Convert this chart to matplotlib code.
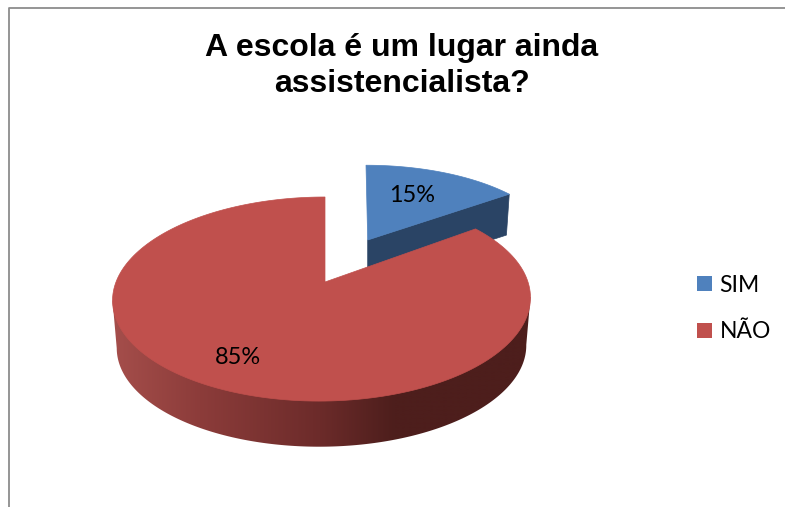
import numpy as np
import matplotlib
matplotlib.use("Agg")
from matplotlib import pyplot as plt
from matplotlib.patches import Patch

# chart data
categories = ["SIM", "NÃO"]
values = [15, 85]
value_labels = ["15%", "85%"]
title = "A escola é um lugar ainda\nassistencialista?"

BLUE = "#4F81BD"
BLUE_WALL = "#2A4465"
RED = "#C0504D"


def project(angle, geo, drop=0.0, scale=1.0):
    # angle in degrees, clockwise from 12 o'clock; simple perspective of the pie plane
    a = np.radians(angle)
    px = np.sin(a)
    py = np.cos(a)
    w = 1 + geo["k"] * py
    x = geo["cx"] + geo["shift"] + scale * (geo["rx"] * px / w + geo["lean"] * py)
    y = geo["cy"] + drop - scale * geo["ry"] * py / w
    return x, y


def slice_outline(start, end, geo):
    t = np.linspace(start, end, 200)
    x, y = project(t, geo)
    return np.column_stack([np.r_[geo["cx"], x], np.r_[geo["cy"], y]])


fig = plt.figure(figsize=(7.85, 5.07), dpi=100)
ax = fig.add_axes([0, 0, 1, 1])
ax.axis("off")

# chart frame, runs off the right and bottom of the picture
ax.plot([8.5, 8.5, 785], [507, 8, 8], color="#8C8C8C", lw=1.3, solid_capstyle="butt")

sweep = 360 * values[0] / sum(values)

# blue slice, pulled out from the pie
blue_geo = dict(cx=367.7, cy=240, rx=187.6, ry=83, k=0.11, lean=-1.7, shift=0)
blue_drop = 40
bx, by = project(sweep, blue_geo)
bx2, by2 = project(sweep, blue_geo, drop=blue_drop, scale=0.98)
ax.fill([blue_geo["cx"], bx, bx2, blue_geo["cx"]],
        [blue_geo["cy"], by, by2, blue_geo["cy"] + blue_drop],
        color=BLUE_WALL, lw=0.5, zorder=2)
ax.add_patch(plt.Polygon(slice_outline(0, sweep, blue_geo), closed=True,
                         facecolor=BLUE, edgecolor=BLUE, lw=0.5, zorder=3))

# red slice: side wall as a horizontal gradient clipped to the rim, then the top face
red_geo = dict(cx=325, cy=282, rx=206, ry=99.2, k=0.167, lean=3, shift=-3)
red_drop = 48
angles = np.linspace(sweep, 360, 400)
xt, yt = project(angles, red_geo)
xb, yb = project(angles, red_geo, drop=red_drop, scale=0.98)
i_right, i_left = xt.argmax(), xt.argmin()
# top face covers the inner side of this outline, only the lower rim shows
wall_x = np.r_[xt[i_right], xb[i_right:i_left + 1], xt[i_left]]
wall_y = np.r_[yt[i_right], yb[i_right:i_left + 1], yt[i_left]]
wall = plt.Polygon(np.column_stack([wall_x, wall_y]), closed=True,
                   transform=ax.transData, facecolor="none", edgecolor="none")
ax.add_patch(wall)
gx = np.arange(100, 541)
stops = [113, 200, 320, 395, 531]
grad = np.column_stack([np.interp(gx, stops, [165, 140, 108, 77, 77]),
                        np.interp(gx, stops, [78, 60, 43, 30, 30]),
                        np.interp(gx, stops, [75, 58, 42, 28, 28])]) / 255
im = ax.imshow(grad[np.newaxis, :, :], extent=(100, 540, 460, 190), aspect="auto",
               interpolation="bilinear", zorder=4)
im.set_clip_path(wall)
ax.add_patch(plt.Polygon(slice_outline(sweep, 360, red_geo), closed=True,
                         facecolor=RED, edgecolor=RED, lw=0.5, zorder=5))
ax.set_xlim(0, 785)
ax.set_ylim(507, 0)

ax.text(402, 66, title, ha="center", va="center", fontsize=23, fontweight="bold",
        family="Liberation Sans", linespacing=1.3, color="black")

ax.text(412, 195, value_labels[0], ha="center", va="center", fontsize=16.9, family="Lato", zorder=6)
ax.text(238, 358, value_labels[1], ha="center", va="center", fontsize=16.9, family="Lato", zorder=6)

handles = [Patch(facecolor=BLUE, edgecolor="none"), Patch(facecolor=RED, edgecolor="none")]
ax.legend(handles, categories, loc="center left", bbox_to_anchor=(697, 308.5),
          bbox_transform=ax.transData, frameon=False, handlelength=0.66, handleheight=0.66,
          handletextpad=0.32, labelspacing=1.12, borderpad=0, borderaxespad=0,
          prop={"family": "Lato", "size": 16.5})

fig.savefig("out.png", dpi=100)
